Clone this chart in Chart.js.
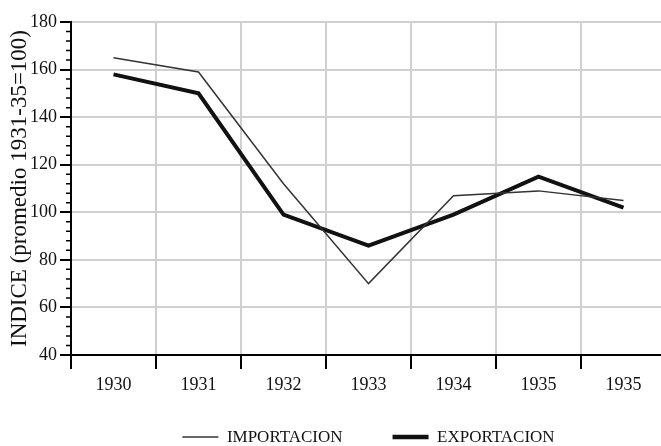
<!DOCTYPE html>
<html lang="es">
<head>
<meta charset="UTF-8">
<title>Indice importacion / exportacion</title>
<script src="https://cdn.jsdelivr.net/npm/chart.js@4.4.0/dist/chart.umd.min.js"></script>
<style>
  html, body { margin: 0; padding: 0; background: #fff; overflow: hidden; }
</style>
</head>
<body>
<canvas id="chart" width="670" height="446"></canvas>
<script>
const years = ['1930', '1931', '1932', '1933', '1934', '1935', '1935'];
const importacion = [165, 159, 112, 70, 107, 109, 105];
const exportacion = [158, 150, 99, 86, 99, 115, 102];
const yMin = 40, yMax = 180, yStep = 20, yMinorStep = 4;

const serif = 'Liberation Serif, "Times New Roman", serif';

// small ticks between the labelled ones on the y axis
const minorTicks = {
  id: 'minorTicks',
  afterDraw(chart) {
    const y = chart.scales.y;
    const ctx = chart.ctx;
    ctx.save();
    ctx.strokeStyle = '#000';
    ctx.lineWidth = 1.5;
    ctx.beginPath();
    for (let v = yMin; v <= yMax; v += yMinorStep) {
      if (v % yStep === 0) continue;
      const py = y.getPixelForValue(v);
      ctx.moveTo(y.right - 5, py);
      ctx.lineTo(y.right, py);
    }
    ctx.stroke();
    ctx.restore();
  }
};

new Chart(document.getElementById('chart'), {
  type: 'line',
  data: {
    labels: years,
    datasets: [
      {
        label: 'IMPORTACION',
        data: importacion,
        borderColor: '#333',
        borderWidth: 1.5,
        pointRadius: 0,
        pointBorderWidth: 1.5,
        pointBorderColor: '#333',
        tension: 0
      },
      {
        label: 'EXPORTACION',
        data: exportacion,
        borderColor: '#111',
        borderWidth: 4,
        pointRadius: 0,
        pointBorderWidth: 4.5,
        pointBorderColor: '#111',
        tension: 0
      }
    ]
  },
  options: {
    responsive: false,
    animation: false,
    layout: { padding: { top: 22, right: 4, left: 0, bottom: 0 } },
    plugins: {
      legend: {
        position: 'bottom',
        fullSize: false,
        maxHeight: 45,
        // empty title with negative padding pulls the row up so the
        // wide gap between the two items doesn't push it off the page
        title: { display: true, text: '', font: { size: 1 }, padding: { top: -11.8, bottom: -11.8 } },
        labels: {
          usePointStyle: true,
          pointStyle: 'line',
          pointStyleWidth: 36,
          padding: 50,
          color: '#111',
          font: { family: serif, size: 17 }
        }
      },
      tooltip: { enabled: false }
    },
    scales: {
      x: {
        offset: true,
        grid: { offset: true, color: '#d0d0d0', lineWidth: 2, tickColor: '#000', tickWidth: 2, tickLength: 14 },
        border: { color: '#000', width: 2 },
        ticks: { color: '#111', padding: 7, maxRotation: 0, font: { family: serif, size: 18, lineHeight: 1 } }
      },
      y: {
        min: yMin,
        max: yMax,
        ticks: { stepSize: yStep, color: '#111', padding: 3, font: { family: serif, size: 18 } },
        grid: {
          color: (c) => (c.tick && c.tick.value === yMin ? 'rgba(0,0,0,0)' : '#d0d0d0'),
          lineWidth: 2, tickColor: '#000', tickWidth: 2, tickLength: 11
        },
        border: { color: '#000', width: 2 },
        title: {
          display: true,
          text: 'INDICE (promedio 1931-35=100)',
          color: '#111',
          padding: { top: 6, bottom: 0 },
          font: { family: serif, size: 23 }
        },
        afterFit: (s) => { s.width = 71; }
      }
    }
  },
  plugins: [minorTicks]
});
</script>
</body>
</html>
